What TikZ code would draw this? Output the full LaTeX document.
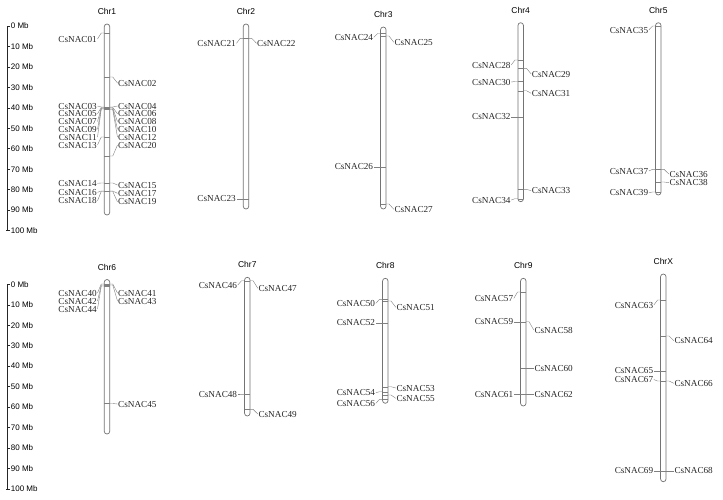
\documentclass[tikz,border=0pt]{standalone}
\usepackage{fontspec}
\setmainfont{Liberation Serif}
\newfontfamily\chrfont{Liberation Sans}
\tikzset{
  chrom/.style={draw=black!55,line width=0.7pt,fill=white,rounded corners=2.75pt,
    minimum width=5.5pt,inner sep=0pt},
  chrname/.style={font=\chrfont\fontsize{8.5}{9}\selectfont},
  mb/.style={font=\chrfont\fontsize{8}{9}\selectfont,anchor=west,inner sep=0.5pt},
  gene/.style={font=\fontsize{9.2}{9.5}\selectfont,text=black!85,inner sep=0.5pt,
    text height=6pt,text depth=0pt},
  link/.style={draw=black!50,line width=0.4pt},
  scalebar/.style={draw=black!85,line width=0.5pt},
}

\begin{document}
\begin{tikzpicture}[x=1pt,y=-1pt]
\useasboundingbox (0,0) rectangle (723,499);

\foreach \r/\y in {a/26,b/284.3}{
  \draw[scalebar,line width=1.2pt] (7.5,\y) coordinate (\r top) -- (7.5,\y+204.5) coordinate (\r bot);
  \foreach \k in {0,...,10}{
    \pgfmathtruncatemacro\mbv{10*\k}
    \draw[scalebar] (7.5,\y+20.45*\k) -- ++(2.5,0);
    \node[mb] (\r\k) at (10.2,\y+20.45*\k) {\mbv\ Mb};
  }
  \draw[scalebar] (\r bot) -- ++(-2,0);
}

\foreach \c/\x/\t/\b in {1/107/24/215, 2/246/24/209, 3/383.3/27/209, 4/520.7/22.7/201.7,
    5/658.3/22.7/195, 6/107/279.5/434, 7/247.3/277.3/416, 8/385.3/278.3/403.3,
    9/523.3/278.3/406, X/663.3/274/481.7}{
  \node[chrom,minimum height=\b-\t] (chr\c) at (\x,{(\t+\b)/2}) {};
  \node[chrname] (t\c) at (\x,\t-12.5) {Chr\c};
}

\foreach \n/\x/\g/\l in {01/107/33/39, 03/107/107/106, 05/107/107.5/113.8,
    07/107/108/121.6, 09/107/108.5/129.4, 11/107/109/137.2, 13/107/137/145,
    14/107/183/183.3, 16/107/191/192.3, 18/107/191.5/200.9,
    21/246/38.3/43.3, 23/246/198.7/198.7,
    24/383.3/33.5/37.3, 26/383.3/166.7/166.7,
    28/520.7/60/65, 30/520.7/81.5/82, 32/520.7/116.7/116.7, 34/520.7/198.7/200,
    35/658.3/26/30, 37/658.3/169.3/171, 39/658.3/192/192.7,
    40/107/284/293, 42/107/285/301, 44/107/286/309,
    46/247.3/280.7/285, 48/247.3/394/394,
    50/385.3/299.3/303.3, 52/385.3/322.7/322.7, 54/385.3/391.7/392.7, 56/385.3/399.3/403.3,
    57/523.3/292/298.3, 59/523.3/321.7/321.7, 61/523.3/394.3/394.3,
    63/663.3/300/305, 65/663.3/370.7/370.7, 67/663.3/381/379.5, 69/663.3/470.7/470.7}{
  \coordinate (g\n) at (\x-2.75,\g);
  \node[gene,anchor=east] (n\n) at (\x-9.5,\l) {CsNAC\n};
  \draw[link] (g\n) -- ++(5.5,0);
  \draw[link] (g\n) -- ++(-3,0) -- (n\n.east);
}

\foreach \n/\x/\g/\l in {02/107/77/83, 04/107/107/106, 06/107/107.5/113.8,
    08/107/108/121.6, 10/107/109/129.4, 12/107/109.5/137.2, 20/107/156/145,
    15/107/183/185, 17/107/191/193.3, 19/107/191.5/201.9,
    22/246/38.3/43.3,
    25/383.3/36/42.3, 27/383.3/204/209.3,
    29/520.7/68.3/74, 31/520.7/90.7/93.3, 33/520.7/189.3/190.7,
    36/658.3/169.3/174, 38/658.3/182/182.7,
    41/107/284/293, 43/107/285/301, 45/107/403.5/404,
    47/247.3/280.7/288.3, 49/247.3/409.3/414,
    51/385.3/301/307.3, 53/385.3/386.7/388, 55/385.3/395/398.3,
    58/523.3/321.7/330, 60/523.3/368.3/368.3, 62/523.3/394.3/394.3,
    64/663.3/336/340.7, 66/663.3/381/383.3, 68/663.3/470.7/470.7}{
  \coordinate (g\n) at (\x+2.75,\g);
  \node[gene,anchor=west] (n\n) at (\x+10.5,\l) {CsNAC\n};
  \draw[link] (g\n) -- ++(-5.5,0);
  \draw[link] (g\n) -- ++(3,0) -- (n\n.west);
}
\end{tikzpicture}
\end{document}
